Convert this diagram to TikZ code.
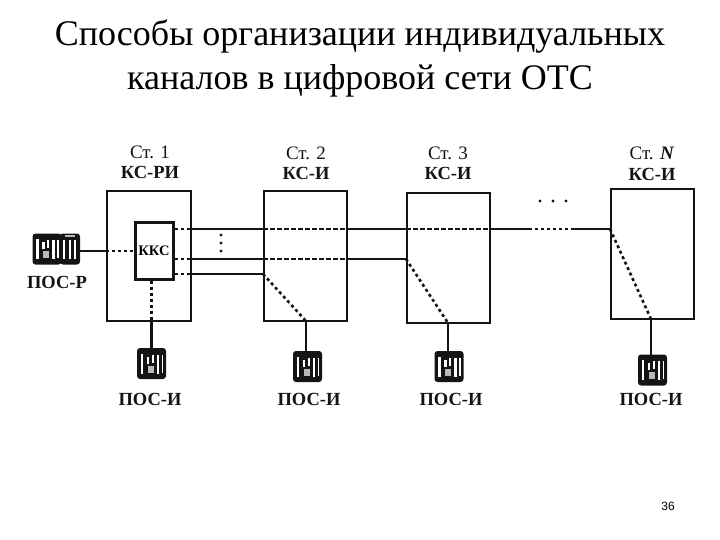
\documentclass[tikz,border=0pt]{standalone}
\usepackage{fontspec}
\setmainfont{Liberation Serif}
\newfontfamily\numfont{Liberation Sans}
\tikzset{
  x=1pt,y=-1pt,
  stbox/.style={draw=ink,line width=2pt,fill=none,inner sep=0pt,minimum width=83pt,minimum height=130pt},
  kksbox/.style={draw=ink,line width=3pt,fill=white,inner sep=0pt,minimum width=38pt,minimum height=56pt,font=\fontsize{14.5}{15}\selectfont\bfseries},
  wire/.style={draw=ink,line width=2.2pt},
  thinwire/.style={draw=ink,line width=2pt},
  dotline/.style={draw=ink,line width=2.6pt,dash pattern=on 3pt off 3pt},
  dashline/.style={draw=ink,line width=1.9pt,dash pattern=on 4.5pt off 2.5pt},
  stlab/.style={text=ink,inner sep=0pt,font=\fontsize{19}{20}\selectfont},
  kslab/.style={text=ink,inner sep=0pt,font=\fontsize{18.5}{20}\selectfont\bfseries},
  titlelab/.style={text=black,inner sep=0pt,font=\fontsize{36}{44}\selectfont,align=center},
  unit/.style={fill=ink,inner sep=0pt,rounded corners=3pt,minimum width=29pt,minimum height=31pt},
  sideunit/.style={fill=ink,inner sep=0pt,rounded corners=3pt,minimum width=20pt,minimum height=31pt},
  dotmark/.style={circle,fill=ink,inner sep=0pt,minimum size=3.4pt},
  handset/.pic={
    \fill[white] (4,6) rectangle (6.5,26);
    \fill[white] (10,9) rectangle (12.5,16);
    \fill[white] (15,7) rectangle (17,15);
    \fill[white] (20,7) rectangle (22.5,26);
    \fill[white] (25,7) rectangle (26.5,25);
    \fill[white!70!ink] (11,18) rectangle (17,25);
  },
  sideset/.pic={
    \fill[white] (3,7) rectangle (5.5,26);
    \fill[white] (9,7) rectangle (11.5,26);
    \fill[white] (14,7) rectangle (16,26);
    \fill[white!70!ink] (5,1.5) rectangle (15,4);
  }
}
\definecolor{ink}{HTML}{141414}
\begin{document}
\begin{tikzpicture}
\useasboundingbox (0,0) rectangle (720,540);
\node[titlelab] (title) at (360,58.5) {Способы организации индивидуальных\\каналов в цифровой сети ОТС};

% stations
\node[stbox,minimum width=84pt] (s1) at (149,256) {};
\node[stbox] (s2) at (305.5,256) {};
\node[stbox] (s3) at (448.5,258) {};
\node[stbox] (sn) at (652.5,254) {};
\node[kksbox] (kks) at (154,251) {ККС};

% station labels
\node[stlab] (t1) at (150,152) {Ст. 1};
\node[kslab] (k1) at (150,172) {КС-РИ};
\node[stlab] (t2) at (306,153) {Ст. 2};
\node[kslab] (k2) at (306,173) {КС-И};
\node[stlab] (t3) at (448,153) {Ст. 3};
\node[kslab] (k3) at (448,173) {КС-И};
\node[stlab] (tn) at (652,153) {Ст. \textbf{\textit{N}}};
\node[kslab] (kn) at (652,174) {КС-И};

% terminals
\node[unit] (u0) at (47,249) {};
\node[sideunit] (u0b) at (70,249) {};
\node[unit] (u1) at (151.5,363.5) {};
\node[unit] (u2) at (307.5,366.5) {};
\node[unit] (u3) at (449,366.5) {};
\node[unit] (un) at (652.5,370) {};
\pic at (u0.north west) {handset};
\pic at (u0b.north west) {sideset};
\pic at (u1.north west) {handset};
\pic at (u2.north west) {handset};
\pic at (u3.north west) {handset};
\pic at (un.north west) {handset};

% terminal labels
\node[kslab] (p0) at (57,282) {ПОС-Р};
\node[kslab] (p1) at (150,399) {ПОС-И};
\node[kslab] (p2) at (309,399) {ПОС-И};
\node[kslab] (p3) at (451,399) {ПОС-И};
\node[kslab] (pn) at (651,399) {ПОС-И};
\node[text=black,inner sep=0pt,font=\fontsize{12}{12}\selectfont\numfont] (page) at (668,506) {36};

% junctions
\coordinate (a0) at (s1.west |- kks.west);
\coordinate (u0e) at (u0b.east |- kks.west);
\coordinate (k1t) at (kks.east |- 0,229);
\coordinate (k2t) at (kks.east |- 0,259);
\coordinate (k3t) at (kks.east |- 0,274);
\coordinate (e1t) at (s1.east |- 0,229);
\coordinate (e2t) at (s1.east |- 0,259);
\coordinate (e3t) at (s1.east |- 0,274);
\coordinate (w2t) at (s2.west |- 0,229);
\coordinate (w2m) at (s2.west |- 0,259);
\coordinate (w2b) at (s2.west |- 0,274);
\coordinate (e2a) at (s2.east |- 0,229);
\coordinate (e2b) at (s2.east |- 0,259);
\coordinate (w3t) at (s3.west |- 0,229);
\coordinate (w3m) at (s3.west |- 0,259);
\coordinate (e3a) at (s3.east |- 0,229);
\coordinate (wnt) at (sn.west |- 0,229);
\coordinate (gap1) at (529,229);
\coordinate (gap2) at (574,229);
\coordinate (b1) at (u1.north |- s1.south);
\coordinate (b1k) at (u1.north |- kks.south);
\coordinate (b2) at (306,321);
\coordinate (b2u) at (306,351);
\coordinate (b3) at (448,323);
\coordinate (b3u) at (448,351);
\coordinate (bn) at (651,319);
\coordinate (bnu) at (651,354.5);

% connectors
\draw[wire] (u0e) -- (a0);
\draw[dotline] (a0) -- (kks.west);
\draw[dotline] (k1t) -- (e1t);
\draw[dotline] (k2t) -- (e2t);
\draw[dotline] (k3t) -- (e3t);
\draw[wire] (e1t) -- (w2t);
\draw[wire,line width=2.6pt] (e2t) -- (w2m);
\draw[thinwire] (e3t) -- (w2b);
\draw[dashline] (w2t) -- (e2a);
\draw[dashline] (w2m) -- (e2b);
\draw[wire] (e2a) -- (w3t);
\draw[wire] (e2b) -- (w3m);
\draw[dashline] (w3t) -- (e3a);
\draw[wire,line width=2.6pt] (e3a) -- (gap1);
\draw[dotline] (gap1) -- (gap2);
\draw[wire] (gap2) -- (wnt);
\draw[dotline] (w2b) -- (b2);
\draw[dotline] (w3m) -- (b3);
\draw[dotline] (wnt) -- (bn);
\draw[dotline] (b1k) -- (b1);
\draw[wire] (b1) -- (u1.north);
\draw[thinwire] (b2) -- (b2u);
\draw[thinwire] (b3) -- (b3u);
\draw[thinwire] (bn) -- (bnu);

% ellipsis marks
\node[dotmark] (v1) at (221,235) {};
\node[dotmark] (v2) at (221,243) {};
\node[dotmark] (v3) at (221,251) {};
\node[dotmark] (h1) at (540,201) {};
\node[dotmark] (h2) at (553,201) {};
\node[dotmark] (h3) at (566,201) {};
\end{tikzpicture}
\end{document}
